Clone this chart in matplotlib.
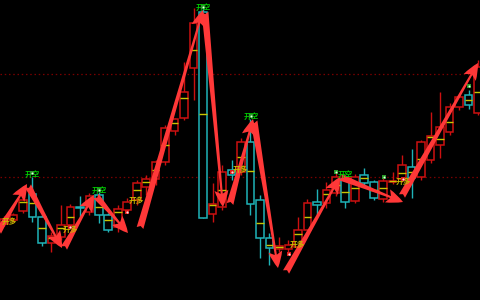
import numpy as np
import matplotlib
matplotlib.use("Agg")
import matplotlib.pyplot as plt
from matplotlib.patches import FancyArrowPatch

plt.rcParams['font.family'] = ['Noto Sans CJK SC', 'DejaVu Sans']

# ---- data (price units) ----
opens  = [76, 80, 89, 106, 83, 57, 63, 75, 92.5, 88, 105, 85, 73, 90, 100, 113, 121, 138, 169, 182,
          232, 288, 86, 93, 130, 128, 158, 100, 62, 51, 51, 53, 70, 98, 97, 107, 121, 99, 125, 118,
          101, 118.5, 121, 133, 123, 140, 155, 168, 193, 205, 187]
closes = [81, 85, 100, 83, 57, 64, 75, 93, 92, 104, 85, 70, 91, 98, 117, 121, 138, 172, 181, 208,
          277, 82, 96, 128, 125, 158, 96, 62, 52, 54, 55, 70, 97, 95, 110, 123, 98, 123, 117, 102,
          119, 119.5, 135, 122, 158, 164, 173, 193, 203, 195, 233]
highs  = [84, 87, 103, 123, 86, 68, 95, 96, 104, 107, 108, 87, 95, 102, 120, 125, 140, 175, 182, 238,
          292, 295, 117, 135, 140, 162, 181, 105, 67, 63, 60, 83, 101, 111, 118, 127, 125, 126, 132, 120,
          122, 128, 145, 151, 160, 188, 208, 197, 205, 210, 240]
lows   = [74, 78, 87, 78, 54, 48, 60, 72, 83, 85, 77, 68, 68, 87, 95, 105, 115, 135, 165, 180,
          200, 82, 78, 90, 120, 125, 85, 42, 35, 48, 48, 50, 67, 85, 92, 104, 92, 97, 115, 100,
          98, 116, 118, 102, 120, 137, 142, 165, 190, 191, 185]
mids   = [np.nan, np.nan, 98, 97, 72, 62, 72, 83, np.nan, np.nan, 93, 80, 88, np.nan, 110, 118, 130,
          155, 177, 202, 250, 186, 95, 110, np.nan, 143, 129, 77, 55, 53, np.nan, 66, 83, np.nan, 106,
          115, 108, 112, 122, 110, 112, 119, 127, 128, 141, 163, 161, 178, np.nan, 200, 208]

# swing arrows (start index, start price, end index, end price)
arrow_x0 = [-0.63, 2.53, 6.33, 9.70, 14.35, 21.2, 23.84, 26.37, 29.75, 35.44, 41.98]
arrow_y0 = [68, 114, 52, 104, 72, 288, 96, 179, 28, 123, 104]
arrow_x1 = [2.43, 6.12, 9.49, 13.08, 20.99, 23.1, 26.27, 28.9, 35.44, 42.09, 50.0]
arrow_y1 = [116, 52, 105, 67, 290, 93, 181, 32, 123, 98, 237]

# signal labels
short_x = [2.95, 10.02, 20.99, 26.05, 35.97]
short_y = [126, 110, 293, 184, 126]
long_x = [0.55, 6.96, 13.92, 24.89, 30.9, 42.09]
long_y = [79, 71, 100, 131, 56, 119]
red_dot_x = [6.96, 12.97, 24.05, 30.06, 42.09]
red_dot_y = [73, 88, 128, 46, 121]
green_dot_x = [2.95, 10.02, 20.99, 26.05, 35.02, 40.08, 49.05]
green_dot_y = [127, 110, 293, 184, 128, 123, 214]
level_lines = [226, 123]

# ---- figure ----
fig = plt.figure(figsize=(4.8, 3.0), dpi=100, facecolor='black')
ax = fig.add_axes([0, 0, 1, 1])
ax.set_facecolor('black')
ax.set_xlim(-0.42, 50.21)
ax.set_ylim(0, 300)
ax.axis('off')

for lv in level_lines:
    ax.axhline(lv, color='#7a0000', lw=0.9, ls=(0, (1.2, 2.2)), zorder=1)

RED = '#cc1010'
CYAN = '#1fb3b8'
YEL = '#c8c400'
n = len(opens)
idx = np.arange(n)
o = np.array(opens, float); c = np.array(closes, float)
h = np.array(highs, float); l = np.array(lows, float)
up = c >= o
cols = [RED if u else CYAN for u in up]
ax.vlines(idx, l, h, colors=cols, lw=1.0, zorder=2)
bottom = np.minimum(o, c)
height = np.maximum(np.abs(c - o), 0.6)
ax.bar(idx, height, bottom=bottom, width=0.8, color='black', edgecolor=cols,
       linewidth=1.1, zorder=3)
m = np.array(mids, float)
ok = ~np.isnan(m)
ax.hlines(m[ok], idx[ok] - 0.4, idx[ok] + 0.4, colors=YEL, lw=1.0, zorder=4)

for x0, y0, x1, y1 in zip(arrow_x0, arrow_y0, arrow_x1, arrow_y1):
    ar = FancyArrowPatch((x0, y0), (x1, y1),
                         arrowstyle='fancy,head_length=12,head_width=10,tail_width=5',
                         mutation_scale=1, shrinkA=0, shrinkB=0,
                         color='#ff3838', lw=0, zorder=6)
    ax.add_patch(ar)

for x, y in zip(short_x, short_y):
    ax.text(x, y, '开空', color='#00c800', fontsize=5.5, fontweight='bold',
            ha='center', va='center', zorder=7)
for x, y in zip(long_x, long_y):
    ax.text(x, y, '开多', color='#c8b800', fontsize=5.5, fontweight='bold',
            ha='center', va='center', zorder=7)
ax.scatter(green_dot_x, green_dot_y, s=9, marker='s', color='#2a9a2a', zorder=8, lw=0)
ax.scatter(green_dot_x, green_dot_y, s=2, marker='o', color='#e8ffe8', zorder=9, lw=0)
ax.scatter(red_dot_x, red_dot_y, s=10, marker='s', color='#e01818', zorder=8, lw=0)
ax.scatter(red_dot_x, red_dot_y, s=2.5, marker='o', color='#ffe0e0', zorder=9, lw=0)

fig.savefig('out.png', dpi=100, facecolor='black')
